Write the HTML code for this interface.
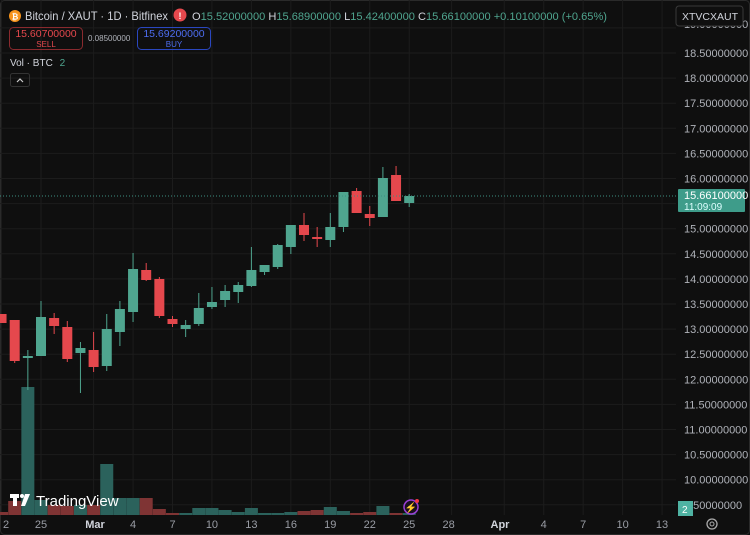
<!DOCTYPE html>
<html><head><meta charset="utf-8"><style>
body{margin:0;background:#0f0f0f;width:750px;height:535px;overflow:hidden;font-family:"Liberation Sans",sans-serif}
svg{position:absolute;left:0;top:0}
.t{font-family:"Liberation Sans",sans-serif}
</style></head><body>
<svg id="s" width="750" height="535" xmlns="http://www.w3.org/2000/svg"></svg>
<script>
var s='';
s+='<rect x="0" y="0" width="750" height="535" fill="#0f0f0f"/>';
s+='<rect x="0.5" y="0.5" width="749" height="534" fill="none" stroke="#2a2a2a" rx="4"/>';
function Y(p){return 53+(18.5-p)*50.2;}
function X(d){return 41+d*13.15;}
for(var p=9.5;p<=19.01;p+=0.5){var y=Y(p);s+='<line x1="0" x2="676" y1="'+y+'" y2="'+y+'" stroke="#1c1c1c"/>';}
var xd=[-3,0,4,7,10,13,16,19,22,25,28,31,35,38,41,44,47];
xd.forEach(function(d){var x=X(d)+(d>=31?3:0);s+='<line x1="'+x+'" x2="'+x+'" y1="0" y2="515" stroke="#1c1c1c"/>';});
var vol=[[-3,'r',512],[-2,'r',501],[-1,'g',387],[0,'g',500],[1,'r',505],[2,'r',506],[3,'g',505],[4,'r',505],[5,'g',464],[6,'g',498],[7,'g',498],[8,'r',498],[9,'r',509],[10,'r',513],[11,'g',513],[12,'g',508],[13,'g',508],[14,'g',510],[15,'g',512],[16,'g',508],[17,'g',513],[18,'g',513],[19,'g',512],[20,'r',511],[21,'r',510],[22,'g',507],[23,'g',511],[24,'r',513],[25,'r',512],[26,'g',506],[27,'r',513],[28,'g',513]];
vol.forEach(function(v){var x=X(v[0])-6.5;s+='<rect x="'+x+'" y="'+v[2]+'" width="13" height="'+(515-v[2])+'" fill="'+(v[1]=='g'?'#2b625c':'#7f3434')+'"/>';});
var c=[[-3,'r',314,323,314,323],[-2,'r',320,361,320,363],[-1,'g',356,358,350,390],[0,'g',317,356,301,356],[1,'r',318,326,313,334],[2,'r',327,359,321,362],[3,'g',348,353,342,393],[4,'r',350,367,332,372],[5,'g',329,366,314,371],[6,'g',309,332,301,346],[7,'g',269,312,253,322],[8,'r',270,280,263,281],[9,'r',279,316,277,318],[10,'r',319,324,316,327],[11,'g',325,329,320,337],[12,'g',308,324,293,326],[13,'g',302,307,287,309],[14,'g',291,300,285,307],[15,'g',285,292,282,303],[16,'g',270,286,247,287],[17,'g',265,272,265,275],[18,'g',245,267,244,269],[19,'g',225,247,225,254],[20,'r',225,235,213,241],[21,'r',237,239,227,247],[22,'g',227,240,213,247],[23,'g',192,227,192,232],[24,'r',191,213,188,213],[25,'r',214,218,206,226],[26,'g',178,217,167,217],[27,'r',175,201,166,201],[28,'g',196,203,194,207]];
c.forEach(function(k){var x=X(k[0]);var col=k[1]=='g'?'#4fa58f':'#e5484d';
s+='<line x1="'+x+'" x2="'+x+'" y1="'+k[4]+'" y2="'+k[5]+'" stroke="'+col+'"/>';
s+='<rect x="'+(x-5)+'" y="'+k[2]+'" width="10" height="'+Math.max(2,k[3]-k[2])+'" fill="'+col+'"/>';});
s+='<line x1="0" x2="676" y1="196" y2="196" stroke="#3d8f80" stroke-dasharray="1,2"/>';
for(var p=9.5;p<=18.51;p+=0.5){var y=Y(p);if(Math.abs(y-196)<14)continue;s+='<text class="t" x="684" y="'+(y+4)+'" font-size="11" fill="#b0b3ba">'+p.toFixed(8)+'</text>';}
s+='<text class="t" x="684" y="28" font-size="11" fill="#b0b3ba">19.00000000</text>';
s+='<rect x="676" y="6" width="67" height="20" rx="3" fill="#0f0f0f" stroke="#3a3a3a"/>';
s+='<text class="t" x="682" y="20" font-size="10.5" fill="#d1d4dc">XTVCXAUT</text>';
s+='<rect x="678" y="189" width="67" height="23" rx="1" fill="#3e9c8a"/>';
s+='<text class="t" x="684" y="199" font-size="11" fill="#fff">15.66100000</text>';
s+='<text class="t" x="684" y="210" font-size="10" fill="#dff">11:09:09</text>';
s+='<rect x="678" y="501" width="15" height="15" fill="#4fb3a3"/><text class="t" x="682" y="513" font-size="10" fill="#fff">2</text>';
var tl=[[-3,'2'],[0,'25'],[4,'Mar'],[7,'4'],[10,'7'],[13,'10'],[16,'13'],[19,'16'],[22,'19'],[25,'22'],[28,'25'],[31,'28'],[35,'Apr'],[38,'4'],[41,'7'],[44,'10'],[47,'13']];
tl.forEach(function(t){var x=X(t[0]);var xx=t[1]=='Mar'?95:(t[1]=='Apr'?500:(t[0]==-3?6:x+(t[0]>=35?3:0)));
s+='<text class="t" x="'+xx+'" y="528" font-size="11" text-anchor="middle" fill="'+(t[1]=='Mar'||t[1]=='Apr'?'#d1d4dc':'#9a9da5')+'" font-weight="'+(t[1]=='Mar'||t[1]=='Apr'?'bold':'normal')+'">'+t[1]+'</text>';});
s+='<circle cx="712" cy="524" r="5" fill="none" stroke="#aaa" stroke-width="1.3"/><circle cx="712" cy="524" r="2" fill="none" stroke="#aaa"/>';
s+='<circle cx="411" cy="507" r="7" fill="#1a0f1f" stroke="#9b3fd6" stroke-width="1.5"/><text class="t" x="411" y="511" font-size="10" text-anchor="middle" fill="#b05ae8">⚡</text><circle cx="417" cy="501" r="2" fill="#f23645"/>';
s+='<rect x="10" y="494" width="9" height="4" fill="#fff"/><rect x="13" y="494" width="4" height="12" fill="#fff"/><circle cx="22" cy="496" r="2" fill="#fff"/><polygon points="25,494 30,494 25,506 21,506" fill="#fff"/>';
s+='<text class="t" x="36" y="506" font-size="15" fill="#fff">TradingView</text>';
s+='<circle cx="15" cy="16" r="6" fill="#f7931a"/><text class="t" x="15" y="19.5" font-size="8" text-anchor="middle" fill="#fff" font-weight="bold">₿</text>';
s+='<text class="t" x="25" y="20" font-size="12" fill="#d1d4dc" textLength="143" lengthAdjust="spacingAndGlyphs">Bitcoin / XAUT · 1D · Bitfinex</text>';
s+='<circle cx="180" cy="15" r="6.5" fill="#e5484d"/><text class="t" x="180" y="19" font-size="9" text-anchor="middle" fill="#fff" font-weight="bold">!</text>';
s+='<text class="t" x="192" y="20" font-size="11" fill="#d1d4dc" textLength="415" lengthAdjust="spacingAndGlyphs">O<tspan fill="#4fa58f">15.52000000</tspan> H<tspan fill="#4fa58f">15.68900000</tspan> L<tspan fill="#4fa58f">15.42400000</tspan> C<tspan fill="#4fa58f">15.66100000 +0.10100000 (+0.65%)</tspan></text>';
s+='<rect x="9.5" y="27.5" width="73" height="22" rx="4" fill="none" stroke="#8a2a2e"/>';
s+='<text class="t" x="46" y="37" font-size="10.5" text-anchor="middle" fill="#e5484d">15.60700000</text><text class="t" x="46" y="47" font-size="8" text-anchor="middle" fill="#e5484d">SELL</text>';
s+='<text class="t" x="88" y="41" font-size="8" fill="#b0b3ba">0.08500000</text>';
s+='<rect x="137.5" y="27.5" width="73" height="22" rx="4" fill="none" stroke="#2a47c0"/>';
s+='<text class="t" x="174" y="37" font-size="10.5" text-anchor="middle" fill="#4d6df0">15.69200000</text><text class="t" x="174" y="47" font-size="8" text-anchor="middle" fill="#4d6df0">BUY</text>';
s+='<text class="t" x="10" y="66" font-size="10" fill="#d1d4dc">Vol · BTC <tspan dx="4" fill="#4fa58f">2</tspan></text>';
s+='<rect x="10.5" y="73.5" width="19" height="13" rx="2" fill="none" stroke="#333"/><polyline points="17,82 20,79 23,82" fill="none" stroke="#ccc" stroke-width="1.2"/>';
document.getElementById('s').innerHTML=s;
</script>
</body></html>
